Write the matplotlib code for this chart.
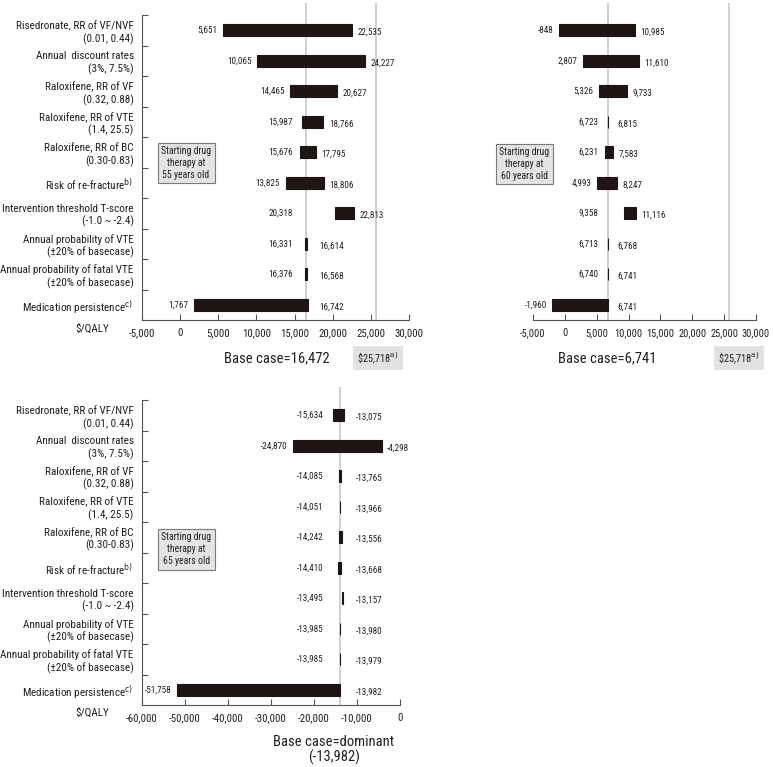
import matplotlib
matplotlib.use('Agg')
import matplotlib.pyplot as plt
from matplotlib import font_manager

# pick a narrow face when one is installed, otherwise shrink the text a bit
fonts = font_manager.fontManager.ttflist
names = {f.name for f in fonts}
narrow = [n for n in ['Liberation Sans Narrow', 'Roboto Condensed', 'DejaVu Sans Condensed',
                      'Open Sans Condensed'] if n in names]
dejavu_cond = any(f.name == 'DejaVu Sans' and 'Condensed' in f.fname for f in fonts)
if narrow:
    plt.rcParams['font.family'] = [narrow[0], 'DejaVu Sans']
    k = 1.0
elif dejavu_cond:
    plt.rcParams['font.family'] = ['DejaVu Sans']
    plt.rcParams['font.stretch'] = 'condensed'
    k = 0.92
else:
    plt.rcParams['font.family'] = ['Liberation Sans', 'DejaVu Sans']
    k = 0.86

categories = ['Risedronate, RR of VF/NVF\n(0.01, 0.44)',
              'Annual  discount rates\n(3%, 7.5%)',
              'Raloxifene, RR of VF\n(0.32, 0.88)',
              'Raloxifene, RR of VTE\n(1.4, 25.5)',
              'Raloxifene, RR of BC\n(0.30-0.83)',
              r'Risk of re-fracture$^{\mathrm{b)}}$',
              'Intervention threshold T-score\n(-1.0 ~ -2.4)',
              'Annual probability of VTE\n(±20% of basecase)',
              'Annual probability of fatal VTE\n(±20% of basecase)',
              r'Medication persistence$^{\mathrm{c)}}$']

age55_low = [5651, 10065, 14465, 15987, 15676, 13825, 20318, 16331, 16376, 1767]
age55_high = [22535, 24227, 20627, 18766, 17795, 18806, 22813, 16614, 16568, 16742]
age55_base = 16472

age60_low = [-848, 2807, 5326, 6723, 6231, 4993, 9358, 6713, 6740, -1960]
age60_high = [10985, 11610, 9733, 6815, 7583, 8247, 11116, 6768, 6741, 6741]
age60_base = 6741

age65_low = [-15634, -24870, -14085, -14051, -14242, -14410, -13495, -13985, -13985, -51758]
age65_high = [-13075, -4298, -13765, -13966, -13556, -13668, -13157, -13980, -13979, -13982]
age65_base = -13982

threshold = 25718

top_ticks = [-5000, 0, 5000, 10000, 15000, 20000, 25000, 30000]
bottom_ticks = [-60000, -50000, -40000, -30000, -20000, -10000, 0]

bar_color = '#1f1515'
line_color = '#c8c8c8'
axis_color = '#555555'
text_color = '#231f20'


def draw_panel(ax, low, high, base, ticks, top_extra, min_gap, show_labels, thr=None,
               tick_size=7.8):
    n = len(low)
    ys = [i + 0.5 for i in range(n)]
    left = [min(a, b) for a, b in zip(low, high)]
    width = [abs(b - a) for a, b in zip(low, high)]
    ax.barh(ys, width, left=left, height=0.39, color=bar_color,
            edgecolor=bar_color, linewidth=0.8, zorder=3)
    ax.axvline(base, color=line_color, lw=1.2, zorder=1)
    if thr is not None:
        ax.axvline(thr, color=line_color, lw=1.2, zorder=1)

    for y, a, b in zip(ys, low, high):
        lo, hi = min(a, b), max(a, b)
        xl = min(lo, base - min_gap)
        xr = max(hi, base + min_gap)
        ax.annotate(f'{lo:,}', (xl, y), xytext=(-4, 0), textcoords='offset points',
                    ha='right', va='center', fontsize=6.6 * k, color=text_color)
        ax.annotate(f'{hi:,}', (xr, y), xytext=(4, -1.5), textcoords='offset points',
                    ha='left', va='center', fontsize=6.6 * k, color=text_color)

    ax.set_xlim(ticks[0], ticks[-1])
    ax.set_xticks(ticks)
    ax.set_xticklabels([f'{t:,}' for t in ticks])
    ax.set_ylim(n, -top_extra)

    for s in ['top', 'right']:
        ax.spines[s].set_visible(False)
    ax.spines['bottom'].set_color(axis_color)
    ax.spines['left'].set_color(axis_color)
    ax.spines['bottom'].set_linewidth(0.8)
    ax.spines['left'].set_linewidth(0.8)
    ax.tick_params(axis='x', direction='in', length=4, color=axis_color,
                   labelsize=tick_size * k, pad=6, labelcolor=text_color)

    if show_labels:
        ax.spines['left'].set_bounds(0, n)
        ax.set_yticks(range(n))
        ax.set_yticklabels([])
        ax.set_yticks(ys, minor=True)
        ax.set_yticklabels(categories, minor=True, fontsize=8 * k, color=text_color)
        ax.tick_params(axis='y', which='major', direction='in', length=4,
                       color=axis_color)
        ax.tick_params(axis='y', which='minor', length=0, pad=6)
    else:
        ax.spines['left'].set_visible(False)
        ax.set_yticks([])


def start_box(ax, x, y, age):
    ax.text(x, y, f'Starting drug\ntherapy at\n{age} years old', transform=ax.transAxes,
            ha='center', va='center', fontsize=7 * k, linespacing=1.25, color=text_color,
            bbox=dict(boxstyle='square,pad=0.35', facecolor='#e4e4e4',
                      edgecolor='#7a7a7a', linewidth=0.8))


fig = plt.figure(figsize=(7.73, 7.67), dpi=100)

ax1 = fig.add_axes([142 / 773, 1 - 320 / 767, 267 / 773, 317 / 767])
draw_panel(ax1, age55_low, age55_high, age55_base, top_ticks, 0.4, 1000, True, threshold)
start_box(ax1, 0.165, 0.495, 55)

ax2 = fig.add_axes([533 / 773, 1 - 320 / 767, 223 / 773, 317 / 767])
draw_panel(ax2, age60_low, age60_high, age60_base, top_ticks, 0.4, 600, False, threshold,
           tick_size=7.5)
start_box(ax2, -0.04, 0.492, 60)

ax3 = fig.add_axes([142 / 773, 1 - 705 / 767, 258 / 773, 318 / 767])
draw_panel(ax3, age65_low, age65_high, age65_base, bottom_ticks, 0.43, 2500, True)
start_box(ax3, 0.171, 0.49, 65)

fig.text(92 / 773, 1 - 329 / 767, '$/QALY', ha='center', va='center', fontsize=8 * k,
         color=text_color)
fig.text(92 / 773, 1 - 713 / 767, '$/QALY', ha='center', va='center', fontsize=8 * k,
         color=text_color)

box_style = dict(boxstyle='square,pad=0.45', facecolor='#e2e2e2', edgecolor='none')
fig.text(277 / 773, 1 - 358 / 767, 'Base case=16,472', ha='center', va='center',
         fontsize=10.5 * k, color=text_color)
fig.text(378 / 773, 1 - 358 / 767, r'\$25,718$^{\mathrm{a)}}$', ha='center', va='center',
         fontsize=7.5 * k, bbox=box_style, color=text_color)
fig.text(607 / 773, 1 - 358 / 767, 'Base case=6,741', ha='center', va='center',
         fontsize=10.5 * k, color=text_color)
fig.text(739 / 773, 1 - 358 / 767, r'\$25,718$^{\mathrm{a)}}$', ha='center', va='center',
         fontsize=7.5 * k, bbox=box_style, color=text_color)
fig.text(334 / 773, 1 - 750 / 767, 'Base case=dominant\n(-13,982)', ha='center',
         va='center', fontsize=10.5 * k, linespacing=1.1, color=text_color)

fig.savefig('out.png', dpi=100)
